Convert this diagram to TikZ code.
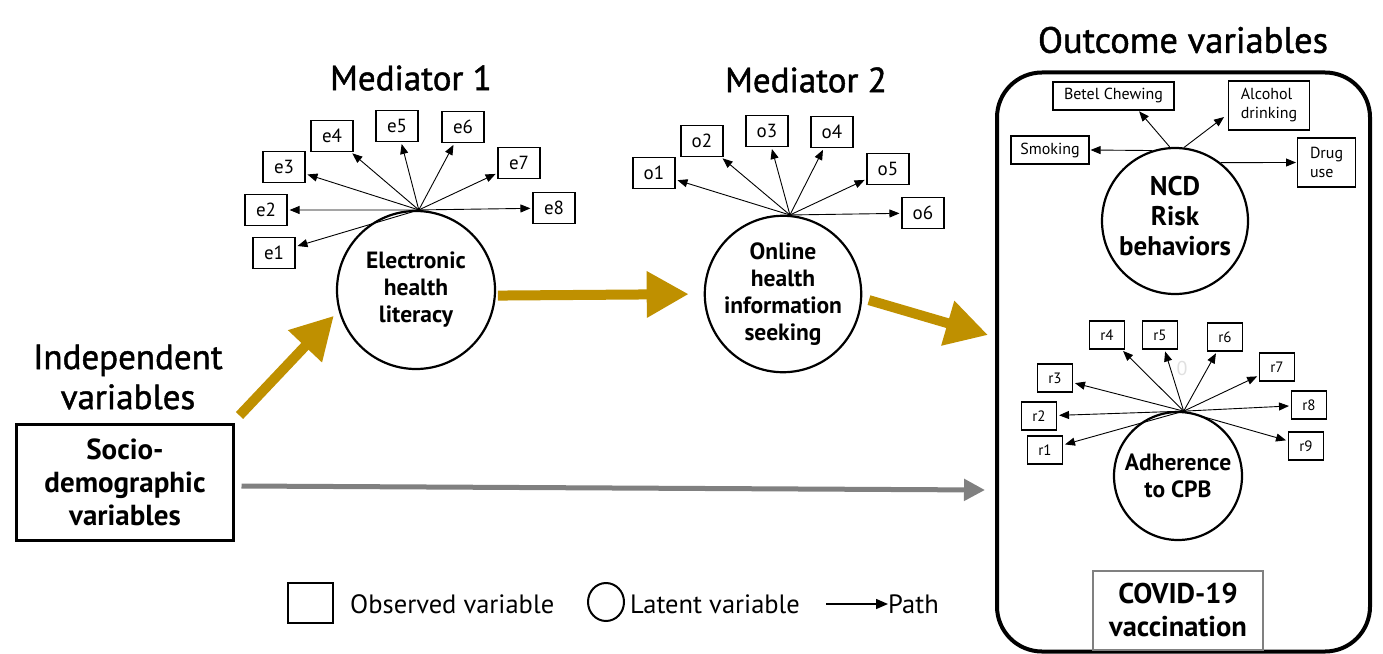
\documentclass[tikz,border=0pt]{standalone}
\usepackage{fontspec}
\setmainfont{PT Sans}
\newfontface\headfont[FakeBold=1.3]{PT Sans}
\usetikzlibrary{arrows.meta,calc,shapes.geometric}
\definecolor{gold}{RGB}{191,144,0}
\definecolor{pathgray}{RGB}{128,128,128}
\newcommand{\fsz}[2]{\fontsize{#1bp}{#2bp}\selectfont}

\tikzset{
  latent/.style={draw, circle, line width=2.2bp, inner sep=0pt, align=center,
    font=\fsz{23.5}{27}\bfseries},
  obs/.style={draw, rectangle, line width=1.1bp, inner sep=0pt,
    minimum width=42bp, minimum height=31bp, font=\fsz{19}{20}},
  robs/.style={draw, rectangle, line width=1.1bp, inner sep=0pt,
    minimum width=35bp, minimum height=28bp, font=\fsz{15}{17}},
  nobs/.style={draw, rectangle, line width=1.1bp, inner sep=0pt, align=left,
    font=\fsz{16}{19}},
  pathline/.style={line width=0.9bp, -{Triangle[length=10bp,width=8bp]}, shorten >=2bp},
  goldarrow/.style={gold, line width=10bp, -{Triangle[length=42bp,width=44bp]}},
  grayarrow/.style={pathgray, line width=5bp, -{Triangle[length=21bp,width=21bp]}},
  heading/.style={align=center, font=\headfont\fsz{35}{40}},
  legendtext/.style={anchor=west, inner sep=0pt, font=\fsz{26.5}{28}},
}

\begin{document}
\begin{tikzpicture}[x=1bp,y=-1bp]
\useasboundingbox (0,0) rectangle (1383,654);

% headings
\node[heading] (hind) at (128,377) {Independent\\variables};
\node[heading] (hmed1) at (411,78) {Mediator 1};
\node[heading] (hmed2) at (806,80) {Mediator 2};
\node[heading, font=\headfont\fsz{36.5}{40}] (hout) at (1183,40) {Outcome variables};

% outcome frame
\node[draw, rounded corners=45bp, line width=4bp, minimum width=373bp,
  minimum height=579bp, inner sep=0pt] (outbox) at (1183.5,362) {};

% independent variable
\node[draw, line width=3bp, minimum width=216bp, minimum height=116bp,
  align=center, font=\fsz{29}{33}\bfseries] (socio) at (125,482)
  {Socio-\\demographic\\variables};

% latent variables
\node[latent, minimum size=158bp] (elit) at (416,290) {Electronic\\health\\literacy};
\node[latent, minimum size=154bp] (ohis) at (783,294) {Online\\health\\information\\seeking};
\node[latent, minimum size=146bp] (ncd) at (1175,221) {};
\node[align=center, font=\fsz{27}{30}\bfseries] (ncdtext) at ([yshift=5bp]ncd.center) {NCD\\Risk\\behaviors};
\node[latent, minimum size=128bp] (adh) at (1178,476) {Adherence\\to CPB};

% eHealth literacy items
\node[obs] (e1) at (274,253) {e1};
\node[obs] (e2) at (266,210) {e2};
\node[obs] (e3) at (284,167) {e3};
\node[obs] (e4) at (332,136) {e4};
\node[obs] (e5) at (397,126) {e5};
\node[obs] (e6) at (463,127) {e6};
\node[obs] (e7) at (519,163) {e7};
\node[obs] (e8) at (554,208) {e8};
\foreach \i in {1,...,8} \draw[pathline] (elit.88) -- (e\i);

% online information seeking items
\node[obs] (o1) at (654,173) {o1};
\node[obs] (o2) at (702,141) {o2};
\node[obs] (o3) at (767,131) {o3};
\node[obs] (o4) at (832,132) {o4};
\node[obs] (o5) at (888,169) {o5};
\node[obs] (o6) at (923,213) {o6};
\foreach \i in {1,...,6} \draw[pathline] (ohis.85) -- (o\i);

% NCD risk behaviours
\node[nobs, minimum width=121bp, minimum height=28bp] (betel) at (1113.5,96) {Betel Chewing};
\node[nobs, minimum width=81bp, minimum height=49bp, inner xsep=9bp, anchor=west] (alcohol) at (1228,105.5) {Alcohol\\drinking};
\node[nobs, minimum width=78bp, minimum height=28bp] (smoking) at (1050,150) {Smoking};
\node[nobs, minimum width=58bp, minimum height=49bp, inner xsep=9bp, anchor=west] (drug) at (1297,162.5) {Drug\\use};
\draw[pathline, shorten >=1bp] (ncd.94) -- ([xshift=25bp]betel.south);
\draw[pathline, shorten >=5bp] (ncd.83) -- ([yshift=-8.5bp]alcohol.west);
\draw[pathline, shorten >=1bp] (ncd.108) -- (smoking.east);
\draw[pathline, shorten >=1bp] (ncd.52) -- (drug.west);

% adherence items
\node[robs] (r1) at (1045,450) {r1};
\node[robs] (r2) at (1039,416) {r2};
\node[robs] (r3) at (1055,378) {r3};
\node[robs] (r4) at (1107,335) {r4};
\node[robs] (r5) at (1160,335) {r5};
\node[robs] (r6) at (1225,337) {r6};
\node[robs] (r7) at (1277,367) {r7};
\node[robs] (r8) at (1309,405) {r8};
\node[robs] (r9) at (1306,446) {r9};
\foreach \i in {1,...,9} \draw[pathline] (adh.85) -- (r\i);
\node[text=black!12, font=\fsz{20}{20}] (ghost) at (1182,368) {0};

% COVID-19 vaccination
\node[draw=pathgray, line width=2bp, minimum width=170bp, minimum height=79bp,
  align=center, font=\fsz{28.5}{33}\bfseries] (covid) at (1178,610.5)
  {COVID-19\\vaccination};

% structural paths
\coordinate (goldtip) at (988,335);
\coordinate (graytip) at (985,490);
\draw[goldarrow, shorten >=7bp] ([shift={(5,-7)}]socio.north east) -- (elit.195);
\draw[goldarrow, shorten >=15bp, shorten <=2bp] (elit.-4) -- (ohis.west);
\draw[goldarrow, shorten <=7bp] (ohis.-3) -- (goldtip);
\draw[grayarrow] ($(socio.east)+(7,4)$) -- (graytip);

% legend
\node[draw, line width=2.5bp, minimum width=45bp, minimum height=40bp, inner sep=0pt] (lobs) at (310.5,603) {};
\node[legendtext] (lobstxt) at (350,604) {Observed variable};
\node[draw, ellipse, line width=2bp, minimum width=36bp, minimum height=38bp, inner sep=0pt] (llat) at (606,602) {};
\node[legendtext] (llattxt) at (630,604) {Latent variable};
\node[legendtext] (lpathtxt) at (888,604) {Path};
\coordinate (lpathstart) at (826,604);
\draw[line width=1.5bp, -{Triangle[length=12bp,width=10bp]}] (lpathstart) -- (lpathtxt.west);
\end{tikzpicture}
\end{document}
